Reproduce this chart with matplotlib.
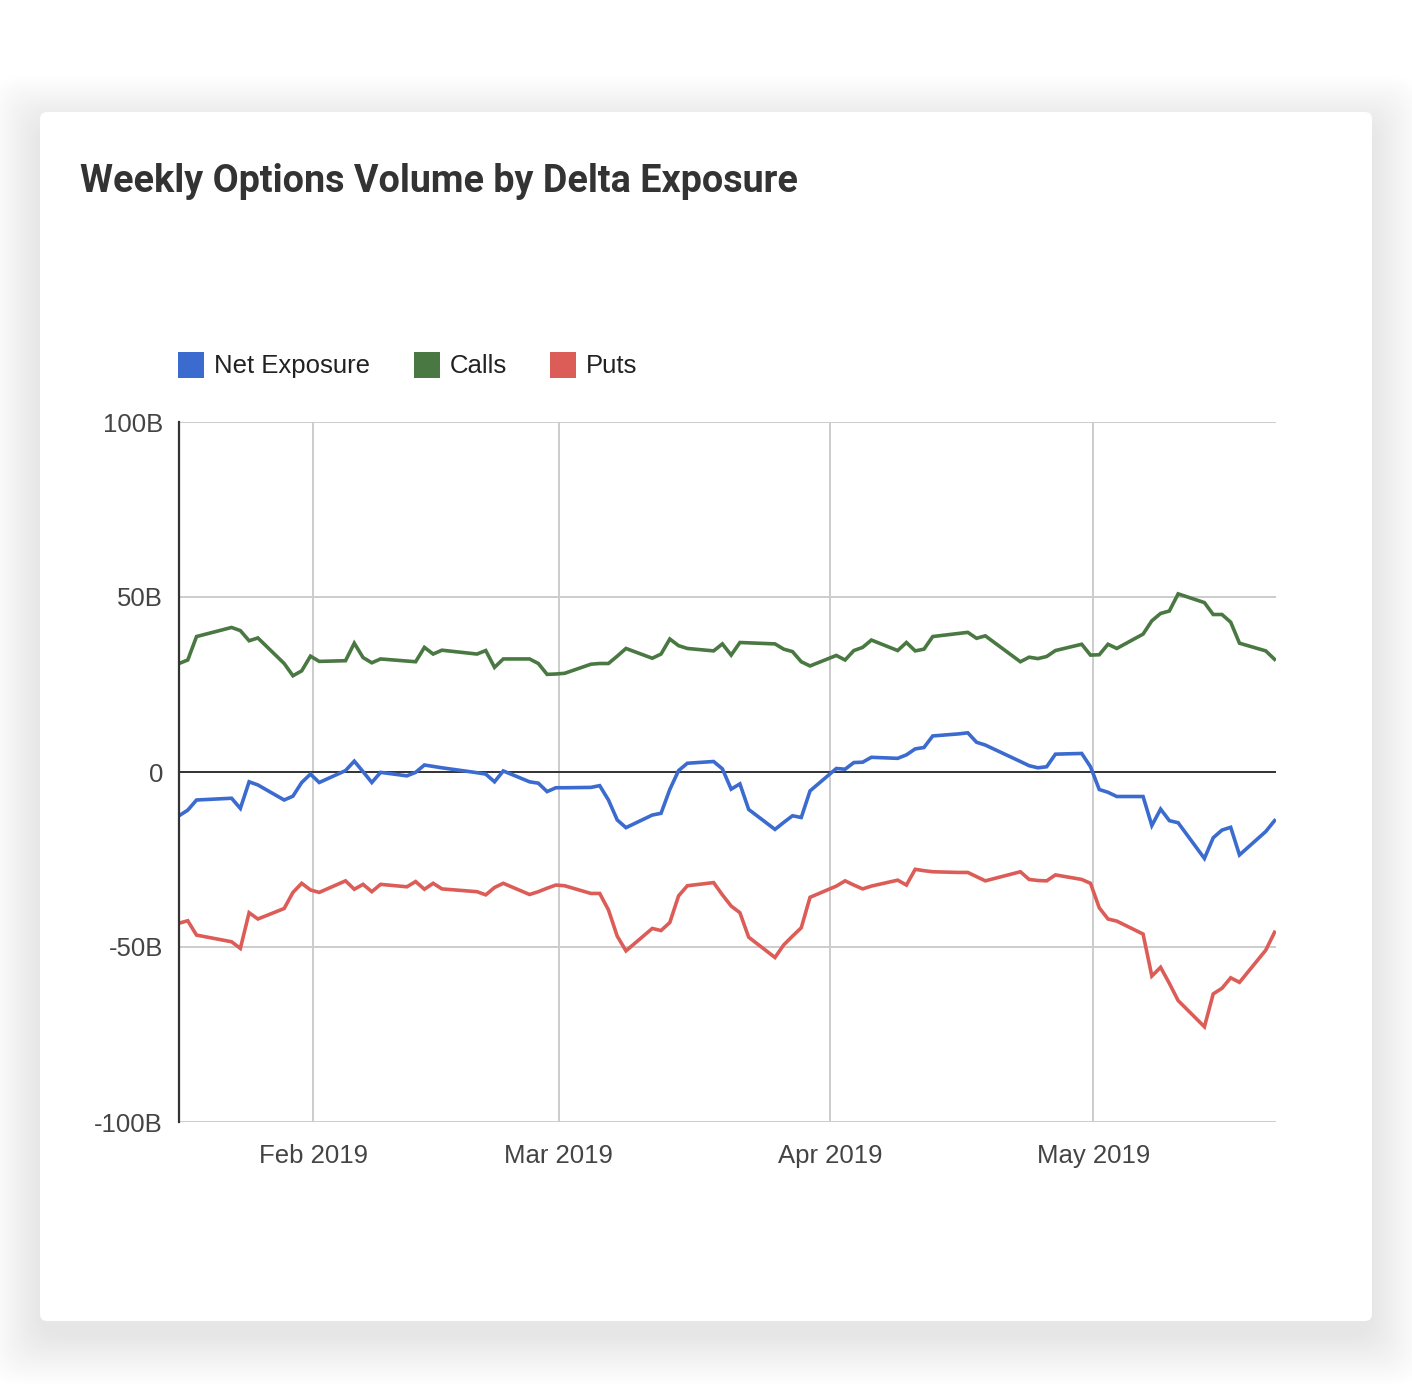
import matplotlib
matplotlib.use("Agg")
import matplotlib.pyplot as plt
from matplotlib.patches import FancyBboxPatch, Rectangle
import pandas as pd

# ---------------- data (billions) ----------------
dates = [
    "2019-01-16", "2019-01-17", "2019-01-18", "2019-01-22", "2019-01-23", "2019-01-24", "2019-01-25",
    "2019-01-28", "2019-01-29", "2019-01-30", "2019-01-31", "2019-02-01",
    "2019-02-04", "2019-02-05", "2019-02-06", "2019-02-07", "2019-02-08",
    "2019-02-11", "2019-02-12", "2019-02-13", "2019-02-14", "2019-02-15",
    "2019-02-19", "2019-02-20", "2019-02-21", "2019-02-22",
    "2019-02-25", "2019-02-26", "2019-02-27", "2019-02-28", "2019-03-01",
    "2019-03-04", "2019-03-05", "2019-03-06", "2019-03-07", "2019-03-08",
    "2019-03-11", "2019-03-12", "2019-03-13", "2019-03-14", "2019-03-15",
    "2019-03-18", "2019-03-19", "2019-03-20", "2019-03-21", "2019-03-22",
    "2019-03-25", "2019-03-26", "2019-03-27", "2019-03-28", "2019-03-29",
    "2019-04-01", "2019-04-02", "2019-04-03", "2019-04-04", "2019-04-05",
    "2019-04-08", "2019-04-09", "2019-04-10", "2019-04-11", "2019-04-12",
    "2019-04-15", "2019-04-16", "2019-04-17", "2019-04-18",
    "2019-04-22", "2019-04-23", "2019-04-24", "2019-04-25", "2019-04-26",
    "2019-04-29", "2019-04-30", "2019-05-01", "2019-05-02", "2019-05-03",
    "2019-05-06", "2019-05-07", "2019-05-08", "2019-05-09", "2019-05-10",
    "2019-05-13", "2019-05-14", "2019-05-15", "2019-05-16", "2019-05-17",
    "2019-05-20", "2019-05-21",
]

net_exposure = [
    -12.5, -10.9, -8.0, -7.5, -10.4, -2.8, -3.7,
    -8.0, -6.9, -3.0, -0.6, -3.0,
    0.4, 3.1, 0.1, -3.0, -0.1,
    -1.1, -0.1, 2.0, 1.6, 1.2,
    -0.2, -0.6, -2.8, 0.3,
    -2.8, -3.2, -5.6, -4.5, -4.5,
    -4.4, -3.9, -8.0, -13.7, -15.9,
    -12.3, -11.8, -5.0, 0.4, 2.5,
    3.0, 0.9, -4.9, -3.4, -10.7,
    -16.4, -14.4, -12.5, -13.0, -5.4,
    1.0, 0.8, 2.7, 2.8, 4.2,
    3.9, 4.9, 6.6, 7.0, 10.3,
    10.9, 11.2, 8.5, 7.7,
    3.0, 1.8, 1.2, 1.5, 5.1,
    5.3, 1.5, -5.0, -5.8, -7.0,
    -7.0, -15.3, -10.6, -13.9, -14.5,
    -24.7, -18.8, -16.6, -15.8, -23.7,
    -17.0, -13.9,
]

calls = [
    31.0, 32.0, 38.7, 41.3, 40.4, 37.5, 38.3,
    31.0, 27.5, 28.9, 33.1, 31.6,
    31.8, 36.8, 32.7, 31.2, 32.3,
    31.7, 31.5, 35.6, 33.7, 34.8,
    33.7, 34.7, 29.9, 32.3,
    32.3, 31.0, 27.9, 28.0, 28.2,
    30.8, 31.0, 31.0, 33.1, 35.3,
    32.5, 33.7, 38.0, 36.1, 35.3,
    34.6, 36.6, 33.4, 37.0, 36.9,
    36.6, 35.1, 34.4, 31.5, 30.3,
    33.3, 32.0, 34.7, 35.6, 37.7,
    34.7, 37.0, 34.6, 35.1, 38.7,
    39.6, 39.9, 38.2, 38.9,
    31.5, 32.8, 32.4, 33.0, 34.7,
    36.5, 33.4, 33.5, 36.5, 35.3,
    39.4, 43.2, 45.3, 46.0, 50.9,
    48.4, 45.0, 45.0, 42.8, 36.8,
    34.6, 32.2,
]

puts = [
    -43.2, -42.5, -46.6, -48.5, -50.4, -40.2, -42.0,
    -39.0, -34.4, -31.8, -33.7, -34.4,
    -31.1, -33.5, -32.1, -34.2, -32.1,
    -32.8, -31.3, -33.5, -31.8, -33.4,
    -34.2, -35.1, -33.0, -31.8,
    -35.0, -34.2, -33.2, -32.3, -32.5,
    -34.7, -34.7, -39.4, -46.9, -51.1,
    -44.7, -45.3, -43.0, -35.4, -32.5,
    -31.6, -35.1, -38.3, -40.2, -47.2,
    -53.0, -49.4, -46.9, -44.5, -35.8,
    -32.6, -31.1, -32.3, -33.4, -32.6,
    -30.9, -32.3, -27.8, -28.2, -28.5,
    -28.7, -28.7, -29.9, -31.1,
    -28.5, -30.7, -31.0, -31.1, -29.4,
    -30.7, -31.8, -38.8, -42.0, -42.6,
    -46.3, -58.3, -55.8, -60.4, -65.3,
    -72.8, -63.4, -61.8, -58.8, -60.1,
    -50.9, -45.8,
]

series_names = ["Net Exposure", "Calls", "Puts"]
series_colors = ["#3b6bcf", "#4a7842", "#dc5d57"]
month_ticks = ["2019-02-01", "2019-03-01", "2019-04-01", "2019-05-01"]
month_labels = ["Feb 2019", "Mar 2019", "Apr 2019", "May 2019"]
y_ticks = [-100, -50, 0, 50, 100]
y_labels = ["-100B", "-50B", "0", "50B", "100B"]
title = "Weekly Options Volume by Delta Exposure"

# ---------------- figure ----------------
W, H = 1412, 1398
fig = plt.figure(figsize=(W / 100, H / 100), dpi=100)
fig.patch.set_facecolor("white")


def fx(px):
    return px / W


def fy(py):
    return 1 - py / H


# card shadow + card
cx0, cy0, cx1, cy1 = 40, 112, 1372, 1321
n_layers = 25
for i in range(n_layers, 0, -1):
    grow = i * 2.0
    off = 14
    sh = FancyBboxPatch((fx(cx0 - grow), fy(cy1 + grow + off)),
                        fx(cx1 - cx0 + 2 * grow), (cy1 - cy0 + 2 * grow) / H,
                        boxstyle="round,pad=0,rounding_size=0.02",
                        transform=fig.transFigure, facecolor="black",
                        edgecolor="none", alpha=0.0042, zorder=-20)
    fig.patches.append(sh)
card = FancyBboxPatch((fx(cx0), fy(cy1)), fx(cx1 - cx0), (cy1 - cy0) / H,
                      boxstyle="round,pad=0,rounding_size=0.005",
                      transform=fig.transFigure, facecolor="white",
                      edgecolor="none", zorder=-10)
fig.patches.append(card)

# axes
ax_l, ax_r, ax_t, ax_b = 179, 1276, 422, 1122
ax = fig.add_axes([fx(ax_l), fy(ax_b), fx(ax_r - ax_l), (ax_b - ax_t) / H])
ax.patch.set_alpha(0)

t = pd.to_datetime(dates) + pd.Timedelta(hours=16)
values = [net_exposure, calls, puts]
for name, vals, col in zip(series_names, values, series_colors):
    ax.plot(t, vals, color=col, lw=2.6, solid_joinstyle="miter", zorder=3, label=name)

ax.set_ylim(-100, 100)
ax.set_xlim(t[0], t[-1] + pd.Timedelta(hours=4))
ax.set_yticks(y_ticks)
ax.set_yticklabels(y_labels)
ax.set_xticks(pd.to_datetime(month_ticks))
ax.set_xticklabels(month_labels)

ax.grid(True, color="#cccccc", lw=1.4, zorder=1)
ax.set_axisbelow(True)
ax.axhline(0, color="#333333", lw=1.4, zorder=2)
for s in ["top", "right", "bottom"]:
    ax.spines[s].set_visible(False)
ax.spines["left"].set_color("#333333")
ax.spines["left"].set_linewidth(1.6)
ax.spines["left"].set_zorder(4)
ax.tick_params(axis="both", length=0, labelsize=18.5, labelcolor="#444444",
               labelfontfamily="Liberation Sans")
ax.tick_params(axis="y", pad=11.5)
ax.tick_params(axis="x", pad=15.5)

# title
fig.text(fx(80), fy(181), title, fontsize=27.2, fontweight="bold",
         family="Roboto", color="#333333", va="center", ha="left")

# legend (manual)
leg_x = [178, 414, 550]
for name, col, lx in zip(series_names, series_colors, leg_x):
    fig.patches.append(Rectangle((fx(lx), fy(378)), fx(26), 26 / H,
                                 transform=fig.transFigure, facecolor=col,
                                 edgecolor="none", zorder=5))
    fig.text(fx(lx + 36), fy(366), name, fontsize=18.5, family="Liberation Sans",
             color="#222222", va="center", ha="left")

fig.savefig("out.png", dpi=100, facecolor=fig.get_facecolor())
